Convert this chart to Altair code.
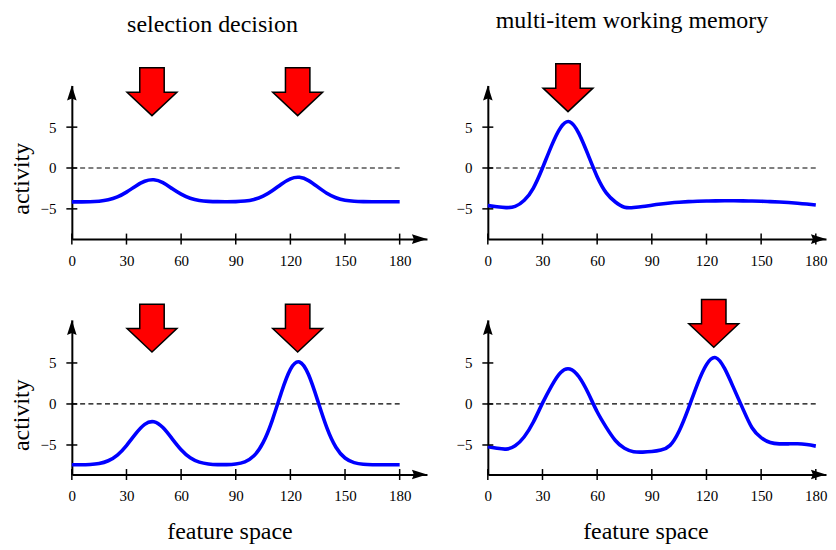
import altair as alt
import pandas as pd

# ---------------- data ----------------
feature = list(range(0, 181, 5))

# selection decision, top (weak inputs)
act_sel_top = [-4.15, -4.15, -4.14, -4.07, -3.9, -3.54, -2.95, -2.22, -1.62, -1.44,
               -1.8, -2.51, -3.2, -3.71, -3.98, -4.08, -4.12, -4.13, -4.11, -4.04,
               -3.85, -3.45, -2.79, -1.98, -1.32, -1.14, -1.54, -2.31, -3.09, -3.64,
               -3.95, -4.07, -4.11, -4.13, -4.13, -4.13, -4.13]
# multi-item working memory, top
act_wm_top = [-4.6, -4.75, -4.85, -4.7, -3.95, -2.45, 0.0, 2.74, 4.96, 5.65,
              4.21, 1.63, -1.06, -3.04, -4.16, -4.8, -4.84, -4.72, -4.55, -4.4,
              -4.28, -4.19, -4.12, -4.07, -4.04, -4.02, -4.01, -4.01, -4.02, -4.04,
              -4.07, -4.11, -4.16, -4.23, -4.31, -4.41, -4.53]
# selection decision, bottom
act_sel_bot = [-7.41, -7.41, -7.37, -7.25, -6.92, -6.23, -5.07, -3.65, -2.49, -2.17,
               -2.88, -4.22, -5.58, -6.56, -7.09, -7.31, -7.39, -7.39, -7.31, -7.05,
               -6.32, -4.72, -2.02, 1.37, 4.22, 5.12, 3.56, 0.41, -2.88, -5.27,
               -6.59, -7.15, -7.35, -7.4, -7.41, -7.41, -7.41]
# multi-item working memory, bottom
act_wm_bot = [-5.22, -5.4, -5.5, -5.1, -4.0, -2.2, 0.1, 2.22, 3.85, 4.27,
              3.31, 1.36, -0.95, -2.85, -4.45, -5.4, -5.82, -5.87, -5.8, -5.62,
              -5.05, -3.3, -0.6, 2.4, 4.8, 5.65, 4.3, 1.9, -0.6, -2.9,
              -4.1, -4.7, -4.86, -4.86, -4.85, -4.95, -5.14]

stim_sel_top = [44, 124]
stim_wm_top = [44]
stim_sel_bot = [44, 124]
stim_wm_bot = [124]

x_ticks = [0, 30, 60, 90, 120, 150, 180]
y_ticks = [-5, 0, 5]

# ---------------- style ----------------
FONT = "Liberation Serif"
ARROW_PATH = "M-0.49,-0.96L0.49,-0.96L0.49,0.02L1,0.02L0,0.96L-1,0.02L-0.49,0.02Z"
Y_HEAD = "M0,0L0.62,1.95L0,1.7L-0.62,1.95Z"
X_HEAD = "M0,0L-1.95,-0.62L-1.7,0L-1.95,0.62Z"


def panel(values, stim_x, stim_y, xmax, ydom, width, height,
          title=None, title_dx=0, ytitle=None, ytitle_y=0, xtitle=None):
    xs = alt.Scale(domain=[0, xmax], nice=False, zero=False)
    ys = alt.Scale(domain=ydom, nice=False, zero=False)

    xkw = dict(values=x_ticks, grid=False, ticks=False, domain=True,
               domainColor="black", domainWidth=2, labelFont=FONT,
               labelFontSize=15, labelColor="black", labelPadding=21,
               labelAngle=0, labelFlush=False, labelOverlap=False,
               labelBaseline="middle")
    if xtitle:
        xkw.update(title=xtitle, titleFont=FONT, titleFontSize=24,
                   titleFontWeight="normal", titleColor="black",
                   titleX=158, titleY=64, titleAlign="center",
                   titleBaseline="alphabetic")
    else:
        xkw.update(title=None)
    ykw = dict(values=y_ticks, grid=False, ticks=False, domain=True,
               domainColor="black", domainWidth=2, labelFont=FONT,
               labelFontSize=15, labelColor="black", labelPadding=16,
               labelFlush=False, labelOverlap=False)
    if ytitle:
        ykw.update(title=ytitle, titleFont=FONT, titleFontSize=24,
                   titleFontWeight="normal", titleColor="black",
                   titleX=-50, titleY=ytitle_y, titleAngle=270,
                   titleAlign="center", titleBaseline="middle")
    else:
        ykw.update(title=None)

    X = alt.X("x:Q", scale=xs, axis=alt.Axis(**xkw))
    Y = alt.Y("y:Q", scale=ys, axis=alt.Axis(**ykw))

    zero_df = pd.DataFrame({"x": [0], "x2": [180], "y": [0]})
    curve_df = pd.DataFrame({"x": feature, "y": values})
    xt_df = pd.DataFrame({"x": x_ticks, "y": [ydom[0]] * len(x_ticks)})
    yt_df = pd.DataFrame({"x": [0] * len(y_ticks), "y": y_ticks})
    yh_df = pd.DataFrame({"x": [0], "y": [ydom[1]]})
    xh_df = pd.DataFrame({"x": [xmax], "y": [ydom[0]]})
    st_df = pd.DataFrame({"x": stim_x, "y": [stim_y] * len(stim_x)})

    zero = alt.Chart(zero_df).mark_rule(color="black", strokeWidth=1.2,
                                        strokeDash=[5, 3.3]).encode(x=X, x2="x2:Q", y=Y)
    curve = alt.Chart(curve_df).mark_line(color="#0000ff", strokeWidth=3.6,
                                          interpolate="natural").encode(x=X, y=Y)
    xt = alt.Chart(xt_df).mark_tick(orient="vertical", size=11, thickness=1.5,
                                    color="black", opacity=1).encode(x=X, y=Y)
    yt = alt.Chart(yt_df).mark_tick(orient="horizontal", size=11, thickness=1.5,
                                    color="black", opacity=1).encode(x=X, y=Y)
    yh = alt.Chart(yh_df).mark_point(shape=Y_HEAD, size=240, filled=True,
                                     color="black", opacity=1).encode(x=X, y=Y)
    xh = alt.Chart(xh_df).mark_point(shape=X_HEAD, size=240, filled=True,
                                     color="black", opacity=1).encode(x=X, y=Y)
    st = alt.Chart(st_df).mark_point(shape=ARROW_PATH, size=2500, filled=True,
                                     fill="#ff0000", stroke="black", strokeWidth=1.5,
                                     fillOpacity=1, strokeOpacity=1,
                                     opacity=1).encode(x=X, y=Y)

    props = dict(width=width, height=height)
    if title:
        props["title"] = alt.TitleParams(text=title, font=FONT, fontSize=24,
                                         fontWeight="normal", color="black",
                                         anchor="middle", frame="group",
                                         dx=title_dx, offset=28.2)
    return alt.layer(zero, curve, xt, yt, yh, xh, st).properties(**props)


tl = panel(act_sel_top, stim_sel_top, 9.34, 195, [-8.7, 10.1], 356, 154,
           title="selection decision", title_dx=-37, ytitle="activity", ytitle_y=93)
tr = panel(act_wm_top, stim_wm_top, 9.83, 185.6, [-8.7, 10.1], 339, 154,
           title="multi-item working memory", title_dx=-25)
bl = panel(act_sel_bot, stim_sel_bot, 9.25, 195, [-8.6, 10.25], 356, 155,
           ytitle="activity", ytitle_y=95, xtitle="feature space")
br = panel(act_wm_bot, stim_wm_bot, 9.83, 185.6, [-8.6, 10.25], 339, 155,
           xtitle="feature space")

chart = alt.concat(tl, tr, bl, br, columns=2, spacing={"row": 81, "column": 61},
                   bounds="flush").configure_view(stroke=None).properties(
    background="white",
    padding={"left": 2, "top": 0, "right": 0, "bottom": 0})

chart.save("out.html", embed_options={"renderer": "svg", "actions": False})
